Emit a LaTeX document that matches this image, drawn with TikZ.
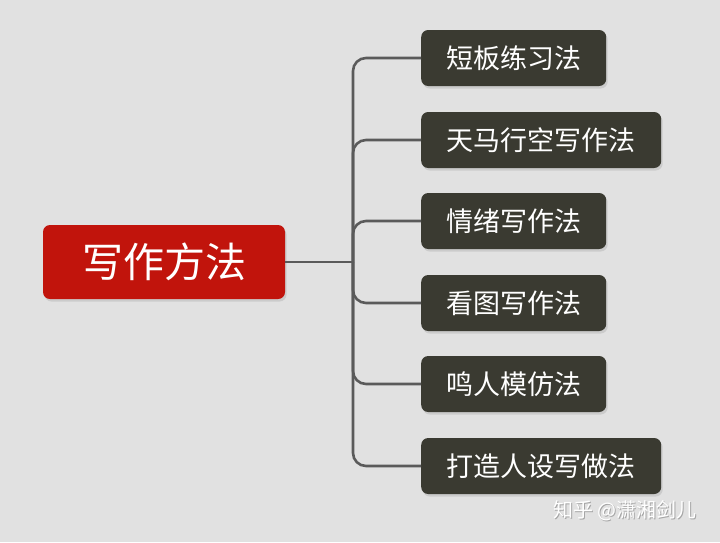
\documentclass[tikz,border=0pt]{standalone}
\usepackage{fontspec}
\setmainfont{Noto Sans CJK SC}
\usetikzlibrary{shadows}
\definecolor{bg}{HTML}{E1E1E1}
\definecolor{rootred}{HTML}{C1140C}
\definecolor{leafdark}{HTML}{3A3A31}
\definecolor{connc}{HTML}{5A5A5A}
\tikzset{
  rootbox/.style={draw=none, fill=rootred, rounded corners=7pt, minimum width=242pt, minimum height=74pt,
    text=white, font=\fontsize{41}{45}\selectfont, inner sep=0pt,
    drop shadow={opacity=0.22, shadow xshift=1.5pt, shadow yshift=-2.5pt}},
  leafbox/.style={draw=none, fill=leafdark, rounded corners=7pt, minimum height=56pt,
    text=white, font=\fontsize{27}{31}\selectfont, inner sep=0pt, anchor=west,
    drop shadow={opacity=0.22, shadow xshift=1.5pt, shadow yshift=-2.5pt}},
  conn/.style={draw=connc, line width=2.6pt, rounded corners=13pt},
  wm/.style={text=white, font=\fontsize{20}{24}\selectfont, inner sep=0pt}
}
\begin{document}
\begin{tikzpicture}[x=1pt,y=-1pt]
\fill[bg] (0,0) rectangle (720,542);
\useasboundingbox (0,0) rectangle (720,542);
\coordinate (j) at (353,262);
\node[rootbox] (root) at (164,262) {写作方法};
\node[leafbox, minimum width=185pt] (b1) at (421,58) {短板练习法};
\node[leafbox, minimum width=240pt] (b2) at (421,140) {天马行空写作法};
\node[leafbox, minimum width=185pt] (b3) at (421,221) {情绪写作法};
\node[leafbox, minimum width=185pt] (b4) at (421,303) {看图写作法};
\node[leafbox, minimum width=185pt] (b5) at (421,384) {鸣人模仿法};
\node[leafbox, minimum width=240pt] (b6) at (421,466) {打造人设写做法};
\draw[conn] (root.east) -- (j);
\foreach \b in {b1,b2,b3,b4,b5,b6}{
  \draw[conn] (j) |- (\b.west);
}
\node[wm, text=gray!70] (wms) at (625.8,511.8) {知乎 @潇湘剑儿};
\node[wm] (wmt) at (625,511) {知乎 @潇湘剑儿};
\end{tikzpicture}
\end{document}
